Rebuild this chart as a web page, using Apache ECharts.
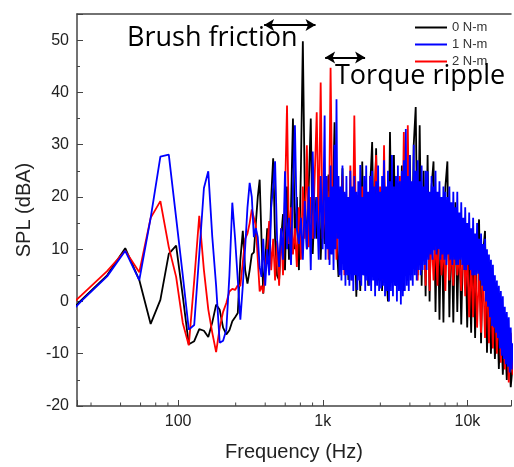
<!DOCTYPE html>
<html><head><meta charset="utf-8">
<script src="https://cdn.jsdelivr.net/npm/echarts@6/dist/echarts.min.js"></script>
<style>html,body{margin:0;padding:0;background:#fff}#c{width:514px;height:467px}</style>
</head><body><div id="c"></div>
<script>
// Frequency bins (Hz) shared by 0 N-m and 2 N-m
const freqHz = [
10.8,21.5,32.3,43.1,53.9,64.6,75.4,86.2,96.9,107.7,
118.5,129.2,140.0,150.8,161.6,172.3,183.1,193.9,204.6,215.4,
226.2,236.9,247.7,258.5,269.3,280.0,290.8,301.6,312.3,323.1,
333.9,344.6,355.4,366.2,377.0,387.7,
400,413,426,440,454,468,483,499,515,531,
548,566,584,603,622,642,662,684,706,728,
751,776,800,826,852,880,908,937,967,998,
1030,1063,1097,1132,1168,1206,1244,1284,1325,1368,
1411,1457,1503,1551,1601,1652,1705,1760,1816,1874,
1934,1996,2060,2126,2194,2264,2337,2412,2489,2569,
2651,2736,2823,2914,3007,3103,3203,3305,3411,3520,
3633,3749,3869,3993,4121,4253,4389,4530,4675,4824,
4979,5138,5303,5472,5648,5828,6015,6207,6406,6611,
6823,7041,7267,7499,7739,7987,8243,8507,8779,9060,
9350,9650,9959,10278,10607,10946,11297,11658,12031,12416,
12814,13224,13647,14084,14534,14999,15479,15975,16486,17014,
17558,18120,18700,19298,19916,20553
];
// Finer frequency bins (Hz) for 1 N-m
const freqHzFine = [
10.8,21.5,32.3,43.1,53.9,64.6,75.4,86.2,96.9,107.7,
118.5,129.2,140.0,150.8,161.6,172.3,183.1,193.9,204.6,215.4,
226.2,236.9,247.7,258.5,269.3,280.0,290.8,301.6,312.3,323.1,
333.9,344.6,355.4,366.2,377.0,387.7,
400,413,426,440,454,468,483,499,515,531,
548,566,584,603,622,642,662,684,706,728,
751,776,800,826,852,880,908,937,967,998,
1030,1046,1063,1080,1097,1114,1132,1150,1168,1187,
1206,1225,1244,1264,1284,1304,1325,1346,1368,1390,
1411,1434,1457,1480,1503,1527,1551,1576,1601,1626,
1652,1678,1705,1732,1760,1788,1816,1845,1874,1904,
1934,1965,1996,2028,2060,2093,2126,2160,2194,2229,
2264,2300,2337,2374,2412,2450,2489,2529,2569,2610,
2651,2693,2736,2779,2823,2868,2914,2960,3007,3055,
3103,3153,3203,3254,3305,3358,3411,3465,3520,3576,
3633,3691,3749,3809,3869,3931,3993,4057,4121,4187,
4253,4321,4389,4459,4530,4602,4675,4749,4824,4901,
4979,5058,5138,5220,5303,5387,5472,5560,5648,5738,
5828,5921,6015,6111,6207,6306,6406,6508,6611,6716,
6823,6931,7041,7153,7267,7382,7499,7618,7739,7862,
7987,8114,8243,8374,8507,8642,8779,8918,9060,9204,
9350,9499,9650,9803,9959,10117,10278,10441,10607,10775,
10946,11120,11297,11476,11658,11843,12031,12222,12416,12613,
12814,13013,13224,13430,13647,13860,14084,14304,14534,14762,
14999,15234,15479,15722,15975,16225,16486,16744,17014,17280,
17558,17833,18120,18404,18700,18993,19298,19600,19916,20230,
20553
];
// SPL (dBA), 0 N-m
const spl0 = [
-8.3,0.3,5.0,10.2,4.1,-4.3,0.3,9.1,10.7,1.0,
-8.2,-7.6,-5.3,-5.6,-6.8,-4.0,-0.6,-1.6,-5.0,-6.3,
-5.5,-3.8,-3.0,-2.2,8.0,13.5,6.0,3.4,6.0,9.0,
9.4,15,20,23.3,12,1.5,
1.5,14,8,20,27.4,12,5,4.1,12,16.7,
6,22,8,18,35,10,20,6,25.5,49.8,
20.5,10,22,35,9.1,20,12,24,8,18,
11,20,24.3,9.1,16,34.3,12,4.7,15,25.5,
8,18,4.1,16,6,20,0.9,14,2,26.8,
5,18,3,22,30.5,6,29.3,4,20,2,
24,6,0,32.4,8,28,3,22,5,26,
2,24,4,28,6,30,37.2,5,33.7,3,
25,1,28,0,22,26.8,-2,20,-3.5,18,
-4,22,26.8,-3,16,-4,19,-2,15,-4.4,
12,14.2,-5,10,-6,12,-7,11,15.7,-8,
9,13.5,-9.8,5,-10,3,-11,0,-12.9,-2,
-14,-5,-15,-8,-16.4,-12
];
// SPL (dBA), 1 N-m (on freqHzFine)
const spl1 = [
-8.5,0.1,4.8,9.7,4.1,16,27.7,28.1,16,5,
-5.4,-4.5,9,21.7,24.9,12.3,3,-7.9,-7.5,-5.4,
5,18.9,12,4.1,-3.5,3,10.4,18,22.7,20,
12.3,14,12.3,6.6,4.7,12,
3,10,5,18,22,26.8,12,6.6,14,8,
24.9,10,16,7,22,33.7,14,11,16,8,
19.2,10,22,6,28.7,12,20,8,24,10,
35.6,8,24,10,20,7,26,9,22,6,
30,10,38.7,12,24,5,22,4,26,6,
21,3,24,5,20,3,25,4,22,2,
24,5,21,2.2,23,4,26.1,3,20,5,
24,2,26,4,21,3,24,2,25,4,
22,1,23,3,26,2,21,2.5,24,3,
27,1,22,2,25,0,23,2,28,1,
22,3,24,0,26,2,23,-0.6,25,1,
27,2,33,3,24,2,28,4,23,3,
30,5,25,4,27,6,23,5,26,6,
22,7,25,6,24.9,8,21,9,24,8,
22,9.8,25,9,21,10,23,8,20,9,
22,8,21,7,20,9,22,8,19,7,
21,8,18,7,21,7,17,8,19,7,
16,6,18,6,15,7,17,6,14,5,
16,5,13,5,15,5.3,12,4,13,3,
11,2,12,0,10,-1,9,-3,8,-4.7,
7,-5,5,-6,4,-7,3,-9,2,-10.4,
1,-11,-1,-12,-2,-12.5,-3,-13.6,-5,-13,
-8
];
// SPL (dBA), 2 N-m
const spl2 = [
-6.4,1.2,5.8,9.7,5.6,16,19.2,10.4,4.7,-4.1,
-8.4,4,16.4,6,-1.5,-6,-9.7,-5,-2,-0.3,
1.9,2.4,2.2,3.1,3,7.5,12,13,15,17.6,
16,14.5,8,1.9,3,1.6,
6,10,15.4,6,12,4,11.6,3,14,5,
20,37.5,11,18,9,14,6.6,18,8,22,
12,29.9,10.4,20,12,24,36.2,14,41.9,12,
16.7,24,8,44.7,14.2,22,8,20,6,24,
5,20,7,26,4,35.6,8,20,4,22,
6,18,5,24,6,20,28,5,22,4,
29.9,6,20,3,22,5,18,4,24,6,
32.4,8,33.7,5,22,7,20,4,18,6,
16,3,20,2,14,4,12,3,18,5,
11,2,16,4,10,3,14,5,9,2,
12,1,10,-3,8,-3,9,-5,7,-6,
6,-7,5,-8,3,-9,2,-10,0,-11.7,
-2,-13,-4,-15.5,-6,-14
];
const seriesNames = ['0 N-m','1 N-m','2 N-m'];
const seriesColors = ['#000000','#0000ff','#ff0000'];
const xTickLabels = {100:'100',1000:'1k',10000:'10k'};
const xMinorTicks = [25,40,55,70,85,250,400,550,700,850,2500,4000,5500,7000,8500];
const brushArrow = [393, 891, 52.9];   // from Hz, to Hz, dBA
const rippleArrow = [1038, 1961, 46.7];
const annotations = ['Brush friction','Torque ripple'];

function pairs(fs, v){ return fs.map((f,i)=>[f, v[i]]); }

const axisColor = '#444';
const axFont = 'Liberation Sans';
const yMin = -20, yMax = 55;
const chart = echarts.init(document.getElementById('c'), null, {renderer:'canvas'});
const mk = (name, fs, vals, color, z, extra) => Object.assign({
  name, type:'line', data:pairs(fs, vals), showSymbol:false, symbol:'none', z,
  lineStyle:{color, width:1.8}, itemStyle:{color}, clip:true, animation:false
}, extra||{});

chart.setOption({
  animation:false,
  backgroundColor:'#fff',
  grid:{left:77, top:14, right:0, bottom:58},
  legend:{data:seriesNames, orient:'vertical', left:415, top:21, itemWidth:32, itemHeight:2,
    itemGap:4, icon:'rect', padding:0,
    textStyle:{fontFamily:axFont, fontSize:13, color:'#333'}},
  xAxis:[{
    type:'log', logBase:10, min:20, max:20000, splitNumber:5,
    name:'Frequency (Hz)', nameLocation:'middle', nameGap:36,
    nameTextStyle:{fontFamily:axFont, fontSize:20, color:'#222'},
    axisLine:{show:true, onZero:false, lineStyle:{color:axisColor, width:1.5}},
    axisTick:{show:true, inside:true, length:6, lineStyle:{color:axisColor, width:1}},
    minorTick:{show:false},
    splitLine:{show:false}, minorSplitLine:{show:false},
    axisLabel:{formatter:v=>xTickLabels[Math.round(v)]||'', margin:8, fontFamily:axFont, fontSize:16, color:'#222'}
  },{
    type:'log', logBase:10, min:20, max:20000, position:'top',
    axisLine:{show:true, onZero:false, lineStyle:{color:axisColor, width:1.5}},
    axisTick:{show:false}, axisLabel:{show:false}, splitLine:{show:false}
  }],
  yAxis:{
    type:'value', min:yMin, max:yMax, interval:10,
    name:'SPL (dBA)', nameLocation:'middle', nameGap:40,
    nameTextStyle:{fontFamily:axFont, fontSize:20, color:'#222'},
    axisLine:{show:true, onZero:false, lineStyle:{color:axisColor, width:1.5}},
    axisTick:{show:true, inside:true, length:6, lineStyle:{color:axisColor, width:1}},
    minorTick:{show:true, splitNumber:2, length:3, lineStyle:{color:axisColor, width:1}},
    splitLine:{show:false},
    axisLabel:{formatter:v=>(v%10===0?String(v):''), margin:8, fontFamily:axFont, fontSize:16, color:'#222'}
  },
  graphic:[
    {type:'text', x:127, y:38, z:100, style:{text:annotations[0], font:'27px "Open Sans"', fill:'#000', verticalAlign:'middle', textVerticalAlign:'middle'}},
    {type:'text', x:335, y:76, z:100, style:{text:annotations[1], font:'27px "Open Sans"', fill:'#000', verticalAlign:'middle', textVerticalAlign:'middle'}}
  ],
  series:[
    mk(seriesNames[0], freqHz, spl0, seriesColors[0], 2, {
      markLine:{silent:true, animation:false, symbol:['arrow','arrow'], symbolSize:[9,10],
        lineStyle:{color:'#000', width:2, type:'solid'}, label:{show:false},
        emphasis:{disabled:true},
        data:[
          [{coord:[brushArrow[0], brushArrow[2]]},{coord:[brushArrow[1], brushArrow[2]]}],
          [{coord:[rippleArrow[0], rippleArrow[2]]},{coord:[rippleArrow[1], rippleArrow[2]]}]
        ]}
    }),
    mk(seriesNames[2], freqHz, spl2, seriesColors[2], 3),
    mk(seriesNames[1], freqHzFine, spl1, seriesColors[1], 4),
    {
      type:'custom', silent:true, z:10, clip:false, animation:false,
      data:xMinorTicks.map(f=>[f, yMin]),
      renderItem:(params, api)=>{
        const p = api.coord([api.value(0), api.value(1)]);
        return {type:'line', shape:{x1:p[0], y1:p[1], x2:p[0], y2:p[1]-3.5},
          style:{stroke:axisColor, lineWidth:1}};
      }
    }
  ]
});
</script></body></html>
